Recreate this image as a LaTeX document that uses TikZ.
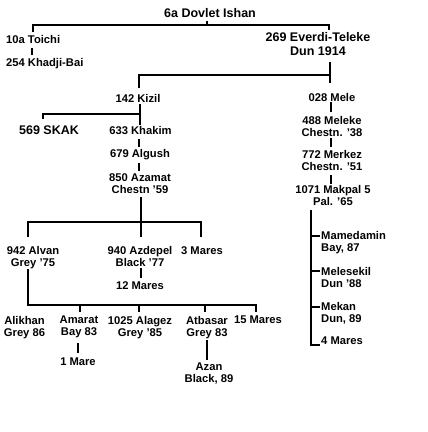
\documentclass[tikz,border=0pt]{standalone}
\usepackage{fontspec}
\setmainfont{Liberation Sans}
\begin{document}
\begin{tikzpicture}[x=1pt,y=-1pt,
  lblS/.style={font=\bfseries\fontsize{11.2}{12}\selectfont, inner sep=0pt, align=center, anchor=north},
  lblB/.style={font=\bfseries\fontsize{12.5}{13.5}\selectfont, inner sep=0pt, align=center, anchor=north},
  lblL/.style={lblS, align=left, anchor=north west},
  conn/.style={line width=1.8pt, line join=miter}]
\useasboundingbox (0,0) rectangle (428,432);
\fill[white] (0,0) rectangle (428,432);

% labels
\node[lblB] (dov) at (210,8.5) {6a Dovlet Ishan};
\node[lblL] (toi) at (6,35) {10a Toichi};
\node[lblL] (kha) at (6,58) {254 Khadji-Bai};
\node[lblB] (eve) at (318,32.5) {269 Everdi-Teleke\\Dun 1914};
\node[lblS] (kiz) at (138,94) {142 Kizil};
\node[lblS] (mel) at (332,93) {028 Mele};
\node[lblB] (ska) at (49,125.5) {569 SKAK};
\node[lblS] (khk) at (140.5,126) {633 Khakim};
\node[lblS] (mlk) at (332,116) {488 Meleke\\Chestn. '38};
\node[lblS] (alg) at (140,149) {679 Algush};
\node[lblS] (mrk) at (332,150) {772 Merkez\\Chestn. '51};
\node[lblS] (aza) at (140,173) {850 Azamat\\Chestn '59};
\node[lblS] (mak) at (333,185) {1071 Makpal 5\\Pal. '65};
\node[lblS] (alv) at (33,246) {942 Alvan\\Grey '75};
\node[lblS] (azd) at (140,246) {940 Azdepel\\Black '77};
\node[lblS] (m3) at (202,246) {3 Mares};
\node[lblS] (m12) at (140,281) {12 Mares};
\node[lblL] (mam) at (321,231) {Mamedamin\\Bay, 87};
\node[lblL] (mls) at (321,267) {Melesekil\\Dun '88};
\node[lblL] (mek) at (321,302) {Mekan\\Dun, 89};
\node[lblL] (m4) at (321,337) {4 Mares};
\node[lblS] (ali) at (24.5,316) {Alikhan\\Grey 86};
\node[lblS] (ama) at (79,316) {Amarat\\Bay 83};
\node[lblS] (ala) at (140,316) {1025 Alagez\\Grey '85};
\node[lblS] (atb) at (207,316) {Atbasar\\Grey 83};
\node[lblS] (m15) at (258,316) {15 Mares};
\node[lblS] (m1) at (78,358) {1 Mare};
\node[lblS] (azn) at (209,363) {Azan\\Black, 89};

% junction coordinates
\coordinate (a1) at (207,21); \coordinate (a2) at (207,25);
\coordinate (a3) at (33,25);  \coordinate (a4) at (33,32);
\coordinate (a5) at (329,25); \coordinate (a6) at (329,30);
\coordinate (b1) at (32,48);  \coordinate (b2) at (32,55);
\coordinate (c1) at (330,62); \coordinate (c2) at (330,83);
\coordinate (c3) at (330,75); \coordinate (c4) at (139,75); \coordinate (c5) at (139,88);
\coordinate (d1) at (331,102); \coordinate (d2) at (331,112);
\coordinate (e1) at (140,104); \coordinate (e2) at (140,125);
\coordinate (e3) at (140,114); \coordinate (e4) at (43,114); \coordinate (e5) at (43,119);
\coordinate (f1) at (139,139); \coordinate (f2) at (139,147);
\coordinate (f3) at (139,163); \coordinate (f4) at (139,171);
\coordinate (g1) at (331,138); \coordinate (g2) at (331,147);
\coordinate (g3) at (331,175); \coordinate (g4) at (331,184);
\coordinate (h1) at (141,197); \coordinate (h2) at (141,237);
\coordinate (h3) at (28,237);  \coordinate (h4) at (28,222);
\coordinate (h5) at (201,222); \coordinate (h6) at (201,237);
\coordinate (i1) at (141,268); \coordinate (i2) at (141,278);
\coordinate (k1) at (28,269);  \coordinate (k2) at (28,305);
\coordinate (k3) at (256,305); \coordinate (k4) at (256,312);
\coordinate (k5) at (80,305);  \coordinate (k6) at (80,312);
\coordinate (k7) at (139,305); \coordinate (k8) at (139,312);
\coordinate (k9) at (205,305); \coordinate (k10) at (205,312);
\coordinate (l1) at (78,343);  \coordinate (l2) at (78,353);
\coordinate (l3) at (207,340); \coordinate (l4) at (207,360);
\coordinate (n1) at (311,210); \coordinate (n2) at (311,345);
\coordinate (n3) at (311,236); \coordinate (n4) at (320,236);
\coordinate (n5) at (311,271); \coordinate (n6) at (320,271);
\coordinate (n7) at (311,307); \coordinate (n8) at (320,307);
\coordinate (n9) at (320,345);

% connectors
\draw[conn] (a1) -- (a2);
\draw[conn] (a4) -- (a3) -- (a5) -- (a6);
\draw[conn] (b1) -- (b2);
\draw[conn] (c1) -- (c2);
\draw[conn] (c5) -- (c4) -- (c3);
\draw[conn] (d1) -- (d2);
\draw[conn] (e1) -- (e2);
\draw[conn] (e5) -- (e4) -- (e3);
\draw[conn] (f1) -- (f2);
\draw[conn] (f3) -- (f4);
\draw[conn] (g1) -- (g2);
\draw[conn] (g3) -- (g4);
\draw[conn] (h1) -- (h2);
\draw[conn] (h3) -- (h4) -- (h5) -- (h6);
\draw[conn] (i1) -- (i2);
\draw[conn] (k1) -- (k2) -- (k3) -- (k4);
\draw[conn] (k5) -- (k6);
\draw[conn] (k7) -- (k8);
\draw[conn] (k9) -- (k10);
\draw[conn] (l1) -- (l2);
\draw[conn] (l3) -- (l4);
\draw[conn] (n1) -- (n2) -- (n9);
\draw[conn] (n3) -- (n4);
\draw[conn] (n5) -- (n6);
\draw[conn] (n7) -- (n8);
\end{tikzpicture}
\end{document}
